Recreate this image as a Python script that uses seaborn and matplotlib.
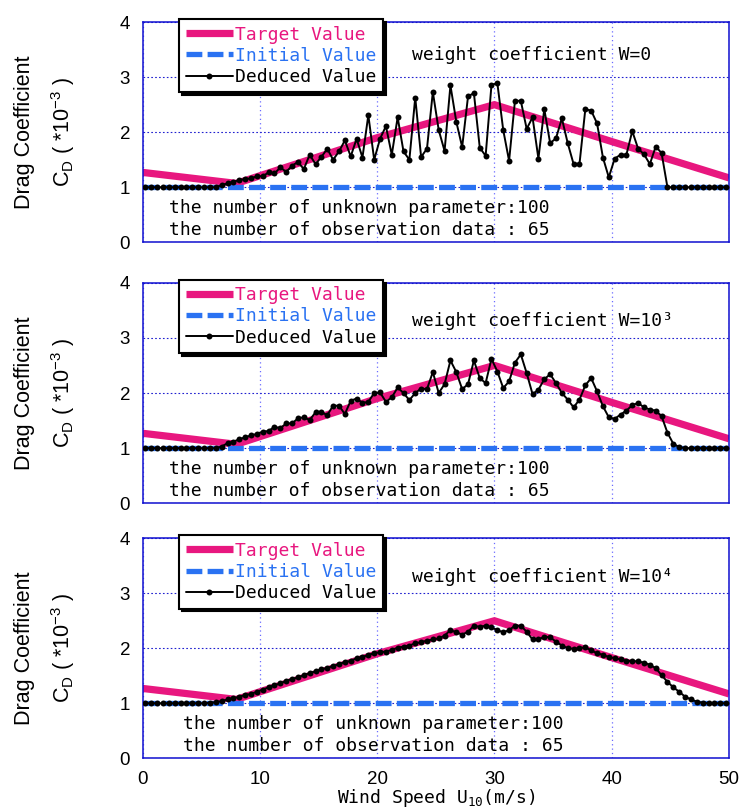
import matplotlib
matplotlib.use("Agg")
import matplotlib.pyplot as plt
import numpy as np
import seaborn as sns

# 100 unknown parameters, one per 0.5 m/s cell (cell centres)
wind_speed = np.arange(0.25, 50.0, 0.5)

target_speed = [0, 8, 20, 30, 40, 50]
target_cd = [1.27, 1.07, 1.90, 2.50, 1.83, 1.17]

initial_speed = [0, 50]
initial_cd = [1.0, 1.0]

deduced_w0 = [
    1.00, 1.00, 1.00, 1.00, 1.00, 1.00, 1.00, 1.00, 1.00, 1.00,
    1.00, 1.00, 1.00, 1.04, 1.07, 1.10, 1.13, 1.15, 1.16, 1.20,
    1.20, 1.27, 1.25, 1.36, 1.28, 1.39, 1.46, 1.33, 1.59, 1.42,
    1.55, 1.70, 1.50, 1.65, 1.85, 1.56, 1.88, 1.54, 2.31, 1.50,
    1.88, 2.11, 1.59, 2.27, 1.65, 1.50, 2.63, 1.55, 1.70, 2.73,
    2.04, 1.66, 2.85, 2.19, 1.73, 2.65, 2.71, 1.72, 1.57, 2.86,
    2.89, 2.04, 1.48, 2.57, 2.57, 2.06, 2.27, 1.52, 2.42, 1.80,
    1.89, 2.25, 1.80, 1.42, 1.42, 2.42, 2.39, 2.16, 1.54, 1.18,
    1.52, 1.59, 1.59, 2.02, 1.70, 1.60, 1.42, 1.74, 1.62, 1.00,
    1.00, 1.00, 1.00, 1.00, 1.00, 1.00, 1.00, 1.00, 1.00, 1.00,
]
deduced_w1e3 = [
    1.00, 1.00, 1.00, 1.00, 1.00, 1.00, 1.00, 1.00, 1.00, 1.00,
    1.00, 1.00, 1.00, 1.03, 1.09, 1.12, 1.16, 1.20, 1.23, 1.26,
    1.30, 1.31, 1.39, 1.36, 1.45, 1.45, 1.54, 1.56, 1.51, 1.65,
    1.65, 1.60, 1.77, 1.77, 1.62, 1.86, 1.90, 1.82, 1.84, 2.00,
    2.01, 1.84, 1.92, 2.10, 2.00, 1.87, 2.00, 2.08, 2.07, 2.38,
    2.00, 2.16, 2.59, 2.38, 2.07, 2.16, 2.59, 2.27, 2.18, 2.62,
    2.39, 2.09, 2.21, 2.55, 2.70, 2.36, 1.98, 2.06, 2.25, 2.34,
    2.18, 2.00, 1.88, 1.74, 1.88, 2.14, 2.27, 2.03, 1.76, 1.56,
    1.53, 1.61, 1.68, 1.78, 1.82, 1.74, 1.70, 1.68, 1.58, 1.28,
    1.08, 1.02, 1.00, 1.00, 1.00, 1.00, 1.00, 1.00, 1.00, 1.00,
]
deduced_w1e4 = [
    1.00, 1.00, 1.00, 1.00, 1.00, 1.00, 1.00, 1.00, 1.00, 1.00,
    1.00, 1.01, 1.02, 1.04, 1.07, 1.09, 1.12, 1.15, 1.17, 1.21,
    1.25, 1.29, 1.33, 1.36, 1.41, 1.44, 1.47, 1.51, 1.55, 1.58,
    1.62, 1.64, 1.68, 1.71, 1.75, 1.77, 1.82, 1.84, 1.88, 1.91,
    1.93, 1.94, 1.97, 2.01, 2.03, 2.05, 2.09, 2.11, 2.14, 2.16,
    2.18, 2.23, 2.33, 2.29, 2.25, 2.30, 2.41, 2.39, 2.41, 2.38,
    2.33, 2.29, 2.33, 2.41, 2.41, 2.30, 2.16, 2.16, 2.21, 2.20,
    2.12, 2.05, 2.00, 1.99, 2.00, 2.02, 1.96, 1.91, 1.88, 1.84,
    1.82, 1.80, 1.77, 1.77, 1.76, 1.74, 1.70, 1.64, 1.51, 1.39,
    1.29, 1.21, 1.12, 1.07, 1.03, 1.01, 1.00, 1.00, 1.00, 1.00,
]

weight_labels = ["weight coefficient W=0", "weight coefficient W=10\u00b3",
                 "weight coefficient W=10\u2074"]
note_lines = ["the number of unknown parameter:100",
              "the number of observation data : 65"]

sns.set_theme(style="white")
plt.rcParams["font.family"] = ["Liberation Sans", "DejaVu Sans"]
plt.rcParams["text.color"] = "black"
plt.rcParams["xtick.labelcolor"] = "black"
plt.rcParams["ytick.labelcolor"] = "black"
MONO = ["DejaVu Sans Mono", "DejaVu Sans"]

PINK = "#E8177F"
BLUE = "#2A72F2"
FRAME = "#1010D0"

fig = plt.figure(figsize=(7.43, 8.11), dpi=100)
rects = [(0.1918, 0.7012, 0.7894, 0.2716),
         (0.1918, 0.3794, 0.7894, 0.2720),
         (0.1918, 0.0650, 0.7894, 0.2713)]
panels = [(deduced_w0, 3.41, 2.28), (deduced_w1e3, 3.30, 2.28), (deduced_w1e4, 3.29, 3.43)]

for i, (rect, (deduced, wy, nx)) in enumerate(zip(rects, panels)):
    ax = fig.add_axes(rect)
    sns.lineplot(x=target_speed, y=target_cd, ax=ax, color=PINK, lw=5.2,
                 solid_capstyle="butt", label="Target Value", zorder=2)
    sns.lineplot(x=initial_speed, y=initial_cd, ax=ax, color=BLUE, lw=3.8,
                 linestyle=(0, (3, 1)), dash_capstyle="butt",
                 label="Initial Value", zorder=3)
    sns.lineplot(x=wind_speed, y=deduced, ax=ax, color="black", lw=1.4,
                 marker="o", markersize=4.3, mec="black", mew=0,
                 label="Deduced Value", zorder=4)

    ax.set_xlim(0, 50)
    ax.set_ylim(0, 4)
    ax.set_xticks([0, 10, 20, 30, 40, 50])
    ax.set_yticks([0, 1, 2, 3, 4])
    ax.set_axisbelow(True)
    ax.grid(axis="y", color="#2020d0", ls=(0, (1.5, 2)), lw=0.8)
    ax.grid(axis="x", color="#6a6aff", ls=(0, (1, 2.5)), lw=0.9)
    for sp in ax.spines.values():
        sp.set_color(FRAME)
        sp.set_linewidth(1.1)
    ax.tick_params(axis="both", direction="in", length=4, color=FRAME,
                   labelsize=13.5, pad=9, labelcolor="black")
    if i < 2:
        ax.tick_params(axis="x", labelbottom=False)
    ax.set_xlabel("")
    ax.set_ylabel("")

    leg = ax.legend(loc="upper left", bbox_to_anchor=(0.063, 1.013),
                    borderaxespad=0, fancybox=False, framealpha=1,
                    edgecolor="black", handlelength=2.6, handletextpad=0.15,
                    borderpad=0.35, labelspacing=0.18,
                    shadow={"color": "black", "alpha": 1},
                    prop={"family": MONO, "size": 13})
    leg.get_frame().set_linewidth(1.5)
    for txt, col in zip(leg.get_texts(), [PINK, BLUE, "black"]):
        txt.set_color(col)

    ax.text(23.0, wy, weight_labels[i], family=MONO, fontsize=13,
            ha="left", va="center")
    ax.text(nx, 0.62, note_lines[0], family=MONO, fontsize=13,
            ha="left", va="center")
    ax.text(nx, 0.22, note_lines[1], family=MONO, fontsize=13,
            ha="left", va="center")

    yc = rect[1] + rect[3] / 2
    fig.text(25 / 743, yc, "Drag Coefficient", rotation=90, fontsize=15.5,
             ha="center", va="center")
    fig.text(63 / 743, yc, r"C$_\mathregular{D}$ ( *10$^{\mathregular{-3}}$ )",
             rotation=90, fontsize=15.5, ha="center", va="center")

fig.text(0.587, 0.016, r"Wind Speed U$_{\mathregular{10}}$(m/s)", family=MONO,
         fontsize=13, ha="center", va="center")

fig.savefig("out.png", dpi=100)
